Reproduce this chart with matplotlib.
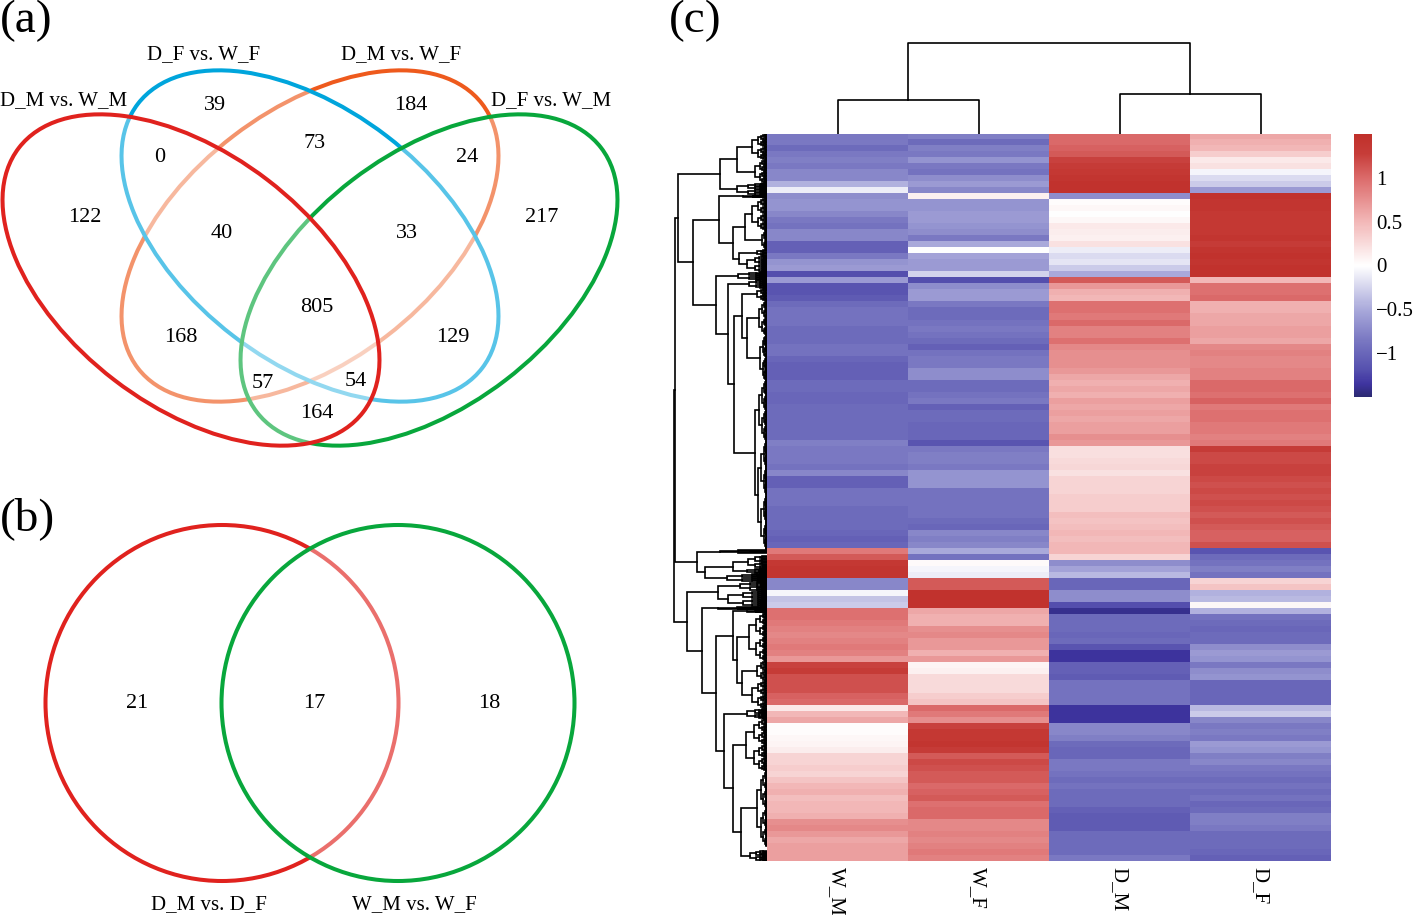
import numpy as np
import matplotlib
matplotlib.use("Agg")
import matplotlib.pyplot as plt
from matplotlib.patches import Ellipse
from matplotlib.colors import LinearSegmentedColormap, Normalize
from matplotlib.cm import ScalarMappable

plt.rcParams['font.family'] = ['Liberation Serif', 'DejaVu Serif']

# heatmap values, top row first
W_M = [-.85,-.85,-.95,-.85,-.8,-.85,-.75,-.75,-.45,-.1,
       -.7,-.65,-.65,-.75,-.85,-.9,-.75,-.75,-1.05,-1.05,
       -.85,-.65,-.6,-1.2,-.6,-1.15,-1.15,-1.1,-.95,-.9,-.9,
       -.9,-.95,-.95,-.95,-.9,-.9,-1.0,-1.05,-1.05,-1.05,
       -.95,-.95,-1.0,-1.0,-.95,-.95,-.95,-.95,-.95,-.95,
       -.8,
       -.85,-.85,-.85,-.9,-.75,-1.05,-1.05,-.9,-.9,-.9,-.95,-.95,-.95,-.95,-1.0,-1.05,-1.0,
       .9,1.1,1.35,1.4,1.4,-.75,-.75,-.05,-.35,-.3,.95,.95,.9,.85,.8,
       .85,.9,.85,.7,1.25,1.3,1.15,1.15,1.15,1.05,1.0,.15,.5,.6,.02,
       .02,.05,.08,.12,.3,.3,.35,.3,.4,.5,.55,.45,.5,.5,.55,.75,.8,.7,.6,.65,.65,.65]
W_F = [-.8,-.95,-.8,-.85,-.65,-.85,-.9,-.7,-.6,-.75,
       .1,-.65,-.65,-.6,-.6,-.65,-.7,-.85,-.5,0,
       -.55,-.6,-.6,-.25,-1.2,-.7,-.6,-.6,-.85,-.95,-.95,
       -.9,-.85,-.9,-.95,-1.05,-.9,-.85,-.85,-.7,-.7,
       -.95,-.95,-.9,-.85,-1.05,-.95,-.95,-1,-1,-1,
       -1.15,
       -.85,-.8,-.8,-.85,-.65,-.65,-.65,-.9,-.9,-.9,-.9,-.9,-.95,-1,-.75,-.8,-.75,
       -.5,-.9,.03,-.05,-.1,1.1,1.1,1.45,1.45,1.45,.6,.55,.55,.75,.8,
       .7,.7,.55,.7,.08,.1,.25,.25,.25,.35,.4,1.0,.9,.75,1.25,
       1.35,1.35,1.4,1.3,1.1,1.2,1.15,1.1,1.1,1.0,1.05,1.1,.95,1.0,1.0,.8,.8,.85,.8,.85,.9,.85]
D_M = [1.0,1.0,1.05,1.1,1.25,1.3,1.35,1.4,1.45,1.45,
       -.7,.02,.05,0,.05,.15,.12,.1,.2,-.1,
       -.2,-.15,-.3,-.5,1.1,.7,.55,.5,.95,.95,.9,
       1.0,.85,.85,.95,.8,.75,.75,.75,.7,.6,
       .55,.6,.55,.65,.6,.65,.6,.65,.65,.75,
       .7,
       .22,.22,.25,.28,.2,.3,.3,.3,.35,.35,.35,.45,.42,.45,.5,.45,.5,
       .5,.3,-.7,-.55,-.4,-1,-1,-.7,-.7,-1.2,-1.4,-.95,-.95,-.95,-1,
       -.95,-1.15,-1.35,-1.35,-1.05,-1.05,-1.1,-.9,-.9,-.9,-.9,-1.35,-1.35,-1.35,-.75,
       -.75,-.8,-.95,-1,-1,-.85,-.85,-.9,-.95,-.9,-.95,-.95,-.95,-1.05,-1.1,-1.1,-1.1,-.95,-.95,-.95,-.95,-.85]
D_F = [.6,.55,.5,.35,.15,.2,-.05,-.2,-.3,-.6,
       1.45,1.4,1.4,1.35,1.35,1.35,1.35,1.4,1.3,1.4,
       1.45,1.4,1.45,1.45,.5,.95,.95,1.0,.55,.55,.6,
       .6,.65,.65,.6,.8,.85,.8,.8,.85,.85,
       1,1,.95,1.05,.9,.95,.95,.9,.9,.85,
       .9,
       1.3,1.2,1.2,1.25,1.25,1.2,1.15,1.2,1.15,1.2,1.15,1.1,1.15,1.1,1.05,1.05,1.15,
       -1.15,-.95,-.9,-.8,-.9,.3,.4,-.45,-.4,.05,-.45,-.9,-.95,-1,-.95,
       -.95,-.7,-.6,-.65,-.85,-.7,-.65,-1,-1,-1,-1,-.4,-.3,-.75,-.85,
       -.8,-.85,-.6,-.65,-.8,-.75,-.85,-.9,-.95,-.9,-.95,-.9,-1,-.95,-.8,-.8,-.85,-.95,-.95,-.95,-1,-1.05]
samples = ["W_M", "W_F", "D_M", "D_F"]
cbar_ticks = [1, 0.5, 0, -0.5, -1]
cbar_labels = ["1", "0.5", "0", "\u22120.5", "\u22121"]

# column tree: height of W pair, D pair, root
top_heights = [34, 40, 91]

# row tree: [height, child, child], a bush is (first row, last row, height)
a1 = [47, [30, (0, 4.3, 15), (4.3, 8.2, 12)], (8.2, 10.2, 30)]
a2a = [48, (10.2, 10.6, 24),
       [34, [22, (10.6, 16, 15), (16, 19.3, 5)], [28, (19.3, 20.3, 10), (20.3, 23, 20)]]]
a2b = [51, (23, 24.3, 29),
       [39, (24.3, 25.7, 18),
        [33, [25, (25.7, 27.7, 10), [20, (27.7, 33.5, 8), (33.5, 41, 7)]],
         [12, (41, 51, 8), (51, 69.2, 9)]]]]
a = [89, a1, [74, a2a, a2b]]
b = [70, (69.2, 69.8, 47),
     [62, [34, (70.2, 72.3, 19), (72.3, 73.2, 20)], (73.2, 74.5, 40)]]
c1 = [49, (74.5, 76, 27), (76, 78.7, 39)]
c3 = [34, (79.2, 79.7, 20),
      [30, (79.7, 87.7, 18), [25, (87.7, 91, 10), (91, 95.7, 15)]]]
c4 = [43, (95.7, 97.3, 20),
      [34, (97.3, 106, 21), [26, (106, 118.5, 10), (119.3, 121, 17)]]]
c = [80, c1, [65, (78.7, 79.2, 49), [51, c3, c4]]]
row_tree = [93, [92.5, a, b], c]

# venn (a)
venn4_ellipses = [(310, 236, -37.5, "#ee5a1d"), (310, 236, 37.5, "#00a5dc"),
                  (429, 280, -37.5, "#08a73c"), (191, 280, 37.5, "#e0221e")]
venn4_counts = [("39", 215, 105), ("184", 411, 105), ("0", 160, 158), ("73", 315, 143),
                ("24", 467, 158), ("122", 85, 218), ("40", 222, 233), ("33", 407, 233),
                ("217", 542, 218), ("805", 317, 308), ("168", 181, 338), ("129", 453, 338),
                ("57", 263, 383), ("54", 356, 382), ("164", 317, 413)]
venn4_names = [("D_F vs. W_F", 204, 55), ("D_M vs. W_F", 401, 55),
               ("D_M vs. W_M", 64, 101), ("D_F vs. W_M", 551, 101)]
# venn (b)
venn2_circles = [(222, 703, "#e0221e"), (398, 703, "#08a73c")]
venn2_counts = [("21", 137, 703), ("17", 314, 703), ("18", 489, 703)]
venn2_names = [("D_M vs. D_F", 209, 905), ("W_M vs. W_F", 414, 905)]

W, H = 1415, 915
fig = plt.figure(figsize=(W / 100, H / 100), dpi=100)


def px_axes(x0, y0, x1, y1):
    return fig.add_axes([x0 / W, 1 - y1 / H, (x1 - x0) / W, (y1 - y0) / H])


cmap = LinearSegmentedColormap.from_list("hm", [
    (0.0, "#2c2a72"), (0.05, "#3f34a0"), (0.10, "#5550ae"), (0.20, "#7472bf"), (0.33, "#a8a8da"),
    (0.5, "#ffffff"), (0.67, "#f2b6b6"), (0.83, "#dc6c6c"), (0.93, "#c63c38"), (1.0, "#c0302a")])
norm = Normalize(-1.5, 1.5)

# heatmap
matrix = np.column_stack([W_M, W_F, D_M, D_F])
ax = px_axes(767, 134, 1331, 861)
ax.imshow(matrix, cmap=cmap, norm=norm, aspect="auto", interpolation="nearest")
ax.axis("off")

# sample labels
for i, s in enumerate(samples):
    fig.text((766 + 141 * (i + 0.5)) / W, 1 - 867 / H, s, rotation=-90, ha="center", va="top", fontsize=15)

# top dendrogram
ax = px_axes(767, 40, 1331, 134)
ax.set_xlim(-0.5, 3.5)
ax.set_ylim(0, 94)
ax.axis("off")
for pair, h in [((0, 1), top_heights[0]), ((2, 3), top_heights[1])]:
    ax.plot([pair[0], pair[0], pair[1], pair[1]], [0, h, h, 0], color="k", lw=1.2)
ax.plot([0.5, 0.5, 2.5, 2.5], [top_heights[0], top_heights[2], top_heights[2], top_heights[1]], color="k", lw=1.2)

# left dendrogram
ax = px_axes(670, 134, 767, 861)
ax.set_xlim(97, 0)
ax.set_ylim(len(W_M), 0)
ax.axis("off")
segs = []


def bush(s, e, h):
    if e - s < 0.15:
        return (s + e) / 2, 0
    m = (s + e) / 2
    y1, h1 = bush(s, m, h * 0.62)
    y2, h2 = bush(m, e, h * 0.62)
    segs.append(([h1, h, h, h2], [y1, y1, y2, y2]))
    return (y1 + y2) / 2, h


def draw_tree(node):
    if isinstance(node, tuple):
        return bush(*node)
    y1, h1 = draw_tree(node[1])
    y2, h2 = draw_tree(node[2])
    h = node[0]
    segs.append(([h1, h, h, h2], [y1, y1, y2, y2]))
    return (y1 + y2) / 2, h


draw_tree(row_tree)
for xs, ys in segs:
    ax.plot(xs, ys, color="k", lw=1.2, solid_joinstyle="miter")

# colour key
cax = px_axes(1354, 134, 1372, 397)
cb = fig.colorbar(ScalarMappable(norm=norm, cmap=cmap), cax=cax)
cb.set_ticks(cbar_ticks)
cb.set_ticklabels(cbar_labels)
cb.ax.tick_params(length=0, pad=3, labelsize=15)
cb.outline.set_visible(False)

# venn panels and panel letters, drawn in picture pixels
ax = fig.add_axes([0, 0, 1, 1])
ax.set_xlim(0, W)
ax.set_ylim(H, 0)
ax.axis("off")
ax.patch.set_alpha(0)

z = 1
for x, y, ang, col in venn4_ellipses:
    ax.add_patch(Ellipse((x, y), 434, 252, angle=ang, fc="white", ec="none", alpha=0.35, zorder=z))
    ax.add_patch(Ellipse((x, y), 434, 252, angle=ang, fc="none", ec=col, lw=2.9, zorder=z + 1))
    z += 2
for x, y, col in venn2_circles:
    ax.add_patch(Ellipse((x, y), 353, 356, fc="white", ec="none", alpha=0.35, zorder=z))
    ax.add_patch(Ellipse((x, y), 353, 356, fc="none", ec=col, lw=2.9, zorder=z + 1))
    z += 2

for txt, x, y in venn4_counts + venn2_counts:
    ax.text(x, y, txt, ha="center", va="center", fontsize=16, zorder=30)
for txt, x, y in venn4_names + venn2_names:
    ax.text(x, y, txt, ha="center", va="center", fontsize=15, zorder=30)
for txt, x, y in [("(a)", 26, 21), ("(b)", 27, 519), ("(c)", 695, 21)]:
    ax.text(x, y, txt, ha="center", va="center", fontsize=34, zorder=30)

fig.savefig("out.png", dpi=100)
